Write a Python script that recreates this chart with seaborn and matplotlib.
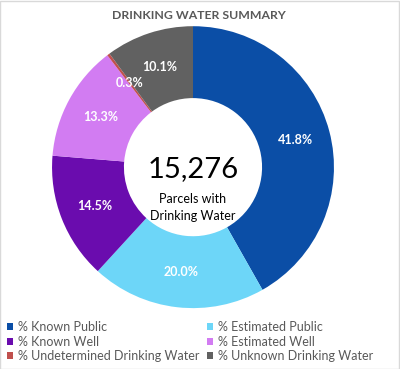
import matplotlib
matplotlib.use("Agg")
import matplotlib.pyplot as plt
import matplotlib.patches as mpatches
import seaborn as sns

# 음용수 현황 데이터
categories = ["% Known Public", "% Estimated Public", "% Known Well",
              "% Estimated Well", "% Undetermined Drinking Water",
              "% Unknown Drinking Water"]
shares = [41.8, 20.0, 14.5, 13.3, 0.3, 10.1]
colors = ["#0B4EA6", "#6DD6F8", "#6A0CAE", "#D27CF2", "#C0504D", "#616161"]
total_parcels = "15,276"
center_caption = "Parcels with\nDrinking Water"
title = "DRINKING WATER SUMMARY"

sns.set_theme(style="white")
plt.rcParams['font.family'] = ['Lato', 'DejaVu Sans']

fig = plt.figure(figsize=(4.0, 3.69), dpi=100)
fig.patch.set_facecolor("white")

# 도넛 차트 영역 (중심 약 (193,167), 반지름 약 141px)
ax = fig.add_axes([0.13, 0.165, 0.705, 0.764])
wedges, texts, autotexts = ax.pie(
    shares, colors=colors, startangle=90, counterclock=False,
    autopct="%.1f%%", pctdistance=0.75,
    wedgeprops=dict(width=0.51, linewidth=0),
    textprops=dict(color="white", fontsize=9, fontweight="bold"))
ax.set_xlim(-1, 1)
ax.set_ylim(-1, 1)
ax.set_aspect("equal")

ax.text(0, -0.01, total_parcels, ha="center", va="center", fontsize=21, color="black")
ax.text(0, -0.285, center_caption, ha="center", va="center", fontsize=9,
        color="black", linespacing=1.45)

fig.text(0.497, 0.957, title, ha="center", va="center", fontsize=8.8,
         fontweight="bold", color="#595959")

# 범례 두 열
def make_handles(idx):
    return [mpatches.Patch(facecolor=colors[i], edgecolor="none") for i in idx]

legend_kw = dict(frameon=False, fontsize=9, handlelength=0.5, handleheight=0.5,
                 handletextpad=0.4, labelspacing=0.2, borderpad=0, borderaxespad=0,
                 labelcolor="#595959", loc="upper left")
left_idx = [0, 2, 4]
right_idx = [1, 3, 5]
fig.legend(make_handles(left_idx), [categories[i] for i in left_idx],
           bbox_to_anchor=(0.017, 0.13), **legend_kw)
fig.legend(make_handles(right_idx), [categories[i] for i in right_idx],
           bbox_to_anchor=(0.517, 0.13), **legend_kw)

# 바깥 테두리
fig.patches.append(mpatches.Rectangle((0.001, 0.001), 0.997, 0.997, transform=fig.transFigure,
                                      fill=False, edgecolor="#D9D9D9", linewidth=1))

fig.savefig("out.png", dpi=100)
